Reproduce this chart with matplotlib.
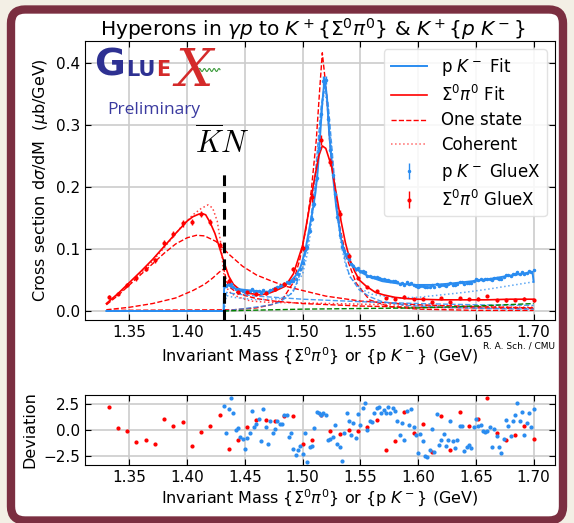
import numpy as np
import matplotlib.pyplot as plt
from matplotlib.patches import FancyBboxPatch

# ---- Sigma0 pi0 data (8 MeV bins) ----
sp_mass = [1.332, 1.340, 1.348, 1.356, 1.364, 1.372, 1.380, 1.388, 1.396, 1.404,
           1.412, 1.420, 1.428, 1.436, 1.444, 1.452, 1.460, 1.468, 1.476, 1.484,
           1.492, 1.500, 1.508, 1.516, 1.524, 1.532, 1.540, 1.548, 1.556, 1.564,
           1.572, 1.580, 1.588, 1.596, 1.604, 1.612, 1.620, 1.628, 1.636, 1.644,
           1.652, 1.660, 1.668, 1.676, 1.684, 1.692, 1.700]
sp_xsec = [0.022, 0.028, 0.042, 0.053, 0.068, 0.082, 0.110, 0.124, 0.141, 0.143,
           0.156, 0.144, 0.106, 0.049, 0.031, 0.030, 0.028, 0.029, 0.035, 0.044,
           0.068, 0.101, 0.183, 0.275, 0.240, 0.156, 0.089, 0.053, 0.039, 0.032,
           0.021, 0.020, 0.023, 0.019, 0.020, 0.014, 0.021, 0.014, 0.021, 0.019,
           0.020, 0.024, 0.017, 0.017, 0.018, 0.020, 0.017]
sp_err = [0.003, 0.003, 0.003, 0.004, 0.004, 0.004, 0.005, 0.005, 0.005, 0.005,
          0.005, 0.005, 0.005, 0.004, 0.003, 0.003, 0.003, 0.003, 0.003, 0.003,
          0.003, 0.005, 0.007, 0.008, 0.007, 0.007, 0.004, 0.002, 0.002, 0.002,
          0.002, 0.002, 0.002, 0.002, 0.002, 0.002, 0.002, 0.002, 0.002, 0.002,
          0.002, 0.002, 0.002, 0.002, 0.002, 0.002, 0.002]
sp_dev = [2.2, 0.15, -0.05, -1.15, -0.95, -1.3, 1.1, 0.4, 0.75, -1.5,
          -0.15, 0.4, 1.45, -1.85, -1.0, 0.25, 1.0, 0.95, 0.9, 1.35,
          1.35, -1.35, -1.0, 1.4, -0.05, -0.4, 0.0, -0.1, 0.25, 1.0,
          -1.95, -1.05, 1.7, -0.25, 0.6, -2.1, 1.35, -1.95, 1.7, 0.35,
          1.1, 3.05, -0.3, -1.0, -0.45, 0.35, -0.9]

# ---- p K- data (2 MeV bins, threshold to 1.70) ----
pk_mass = np.round(np.arange(1.432, 1.7005, 0.002), 3)
pk_xsec = [0.041, 0.041, 0.044, 0.044, 0.039, 0.036, 0.035, 0.034, 0.033, 0.031,
           0.032, 0.033, 0.035, 0.032, 0.033, 0.033, 0.029, 0.034, 0.031, 0.030,
           0.034, 0.035, 0.037, 0.039, 0.040, 0.042, 0.044, 0.046, 0.045, 0.048,
           0.048, 0.052, 0.059, 0.068, 0.078, 0.099, 0.103, 0.129, 0.149, 0.173,
           0.214, 0.262, 0.317, 0.371, 0.372, 0.309, 0.260, 0.219, 0.188, 0.151,
           0.122, 0.103, 0.096, 0.092, 0.084, 0.076, 0.073, 0.067, 0.069, 0.064,
           0.064, 0.063, 0.057, 0.056, 0.055, 0.055, 0.054, 0.053, 0.051, 0.051,
           0.050, 0.050, 0.048, 0.049, 0.048, 0.046, 0.043, 0.045, 0.042, 0.046,
           0.044, 0.045, 0.042, 0.041, 0.039, 0.041, 0.040, 0.038, 0.038, 0.039,
           0.042, 0.039, 0.044, 0.040, 0.042, 0.042, 0.041, 0.043, 0.045, 0.042,
           0.042, 0.044, 0.046, 0.047, 0.043, 0.045, 0.045, 0.045, 0.048, 0.051,
           0.050, 0.051, 0.050, 0.051, 0.051, 0.052, 0.050, 0.053, 0.053, 0.052,
           0.052, 0.054, 0.058, 0.058, 0.056, 0.059, 0.060, 0.063, 0.060, 0.063,
           0.060, 0.062, 0.065, 0.063, 0.066]
pk_err = ([0.0015] * 30
          + [0.002, 0.002, 0.0025, 0.003, 0.003, 0.003, 0.004, 0.004, 0.004, 0.005,
             0.005, 0.006, 0.006, 0.007, 0.007, 0.006, 0.006, 0.005, 0.005, 0.004,
             0.004, 0.003, 0.003, 0.003, 0.002, 0.002, 0.002, 0.002, 0.002, 0.002]
          + [0.0015] * 75)
pk_dev = [2.3, -0.3, 2.0, 3.1, 1.6, 0.0, 0.15, -0.65, -0.9, -1.8,
          -0.8, -0.25, 1.8, 0.3, 0.6, 1.1, -1.05, 2.0, 0.3, -1.3,
          0.9, -0.3, 0.05, 0.9, 0.6, 0.6, 1.45, 1.45, -0.65, -0.3,
          -1.8, -2.4, -1.95, -1.5, -2.3, -0.3, -3.1, -1.6, -1.5, 0.2,
          1.75, 1.6, 1.45, 1.6, 1.45, -0.95, -0.9, -0.65, 0.5, -1.3,
          -1.6, -3.0, -0.3, 1.6, 0.9, -0.5, 0.65, -0.8, 1.5, 0.5,
          2.1, 2.6, 0.0, 0.9, 0.8, 1.6, 2.15, 2.25, 1.6, 1.9,
          1.65, 2.25, 1.65, 2.1, 1.85, 0.9, -0.5, 0.65, -1.0, 1.85,
          0.5, 2.0, 0.3, -0.5, -2.25, -0.4, -1.1, -2.5, -2.6, -1.9,
          0.05, -2.1, 1.55, -1.45, -0.95, -0.4, -1.5, -0.95, 0.9, -1.1,
          -1.75, -1.0, 0.4, 0.4, -2.0, -1.6, -1.4, -1.7, 0.25, 1.1,
          0.4, 0.5, -0.05, -0.15, -0.1, 0.3, -1.6, 0.05, -0.6, -1.6,
          -2.25, -0.9, 1.0, 0.4, -0.6, 0.85, 1.45, 2.6, 0.9, 1.7,
          -0.5, 0.65, 1.6, 0.3, 2.0]

# ---- fits ----
sp_fit_m = [1.330, 1.340, 1.350, 1.360, 1.370, 1.380, 1.390, 1.400, 1.405, 1.410,
            1.413, 1.416, 1.420, 1.424, 1.428, 1.432, 1.436, 1.440, 1.445, 1.450,
            1.455, 1.463, 1.470, 1.477, 1.485, 1.492, 1.500, 1.506, 1.510, 1.514,
            1.517, 1.520, 1.525, 1.529, 1.533, 1.537, 1.541, 1.545, 1.549, 1.555,
            1.563, 1.570, 1.580, 1.590, 1.600, 1.620, 1.640, 1.660, 1.680, 1.700]
sp_fit = [0.012, 0.028, 0.046, 0.064, 0.083, 0.104, 0.125, 0.145, 0.152, 0.156,
          0.157, 0.155, 0.142, 0.125, 0.102, 0.078, 0.056, 0.043, 0.035, 0.030,
          0.028, 0.026, 0.028, 0.033, 0.040, 0.060, 0.106, 0.168, 0.211, 0.250,
          0.266, 0.262, 0.233, 0.190, 0.147, 0.110, 0.082, 0.064, 0.050, 0.040,
          0.030, 0.026, 0.022, 0.020, 0.019, 0.018, 0.018, 0.018, 0.019, 0.019]

pk_fit_m = [1.330, 1.4315, 1.432, 1.434, 1.436, 1.440, 1.445, 1.450, 1.455, 1.460,
            1.465, 1.470, 1.475, 1.480, 1.485, 1.490, 1.494, 1.498, 1.502, 1.505,
            1.508, 1.511, 1.513, 1.515, 1.517, 1.519, 1.521, 1.523, 1.526, 1.529,
            1.533, 1.537, 1.541, 1.545, 1.550, 1.558, 1.569, 1.584, 1.598, 1.612,
            1.627, 1.647, 1.660, 1.676, 1.690, 1.699, 1.700]
pk_fit = [0.0, 0.0, 0.036, 0.042, 0.041, 0.037, 0.035, 0.034, 0.033, 0.032,
          0.031, 0.031, 0.035, 0.039, 0.043, 0.049, 0.057, 0.070, 0.095, 0.125,
          0.155, 0.190, 0.225, 0.280, 0.335, 0.376, 0.345, 0.285, 0.222, 0.168,
          0.118, 0.090, 0.079, 0.070, 0.063, 0.055, 0.048, 0.044, 0.042, 0.042,
          0.044, 0.048, 0.051, 0.056, 0.060, 0.063, 0.047]

# ---- single-state and coherent components ----
sp_one1_m = [1.330, 1.340, 1.350, 1.360, 1.370, 1.380, 1.390, 1.400, 1.408, 1.415,
             1.425, 1.437, 1.448, 1.460, 1.472, 1.485, 1.500, 1.520, 1.550, 1.600,
             1.650, 1.700]
sp_one1 = [0.010, 0.025, 0.042, 0.059, 0.076, 0.093, 0.108, 0.118, 0.122, 0.121,
           0.112, 0.090, 0.072, 0.058, 0.049, 0.040, 0.033, 0.024, 0.016, 0.010,
           0.007, 0.005]
sp_one2_m = [1.330, 1.350, 1.370, 1.390, 1.405, 1.415, 1.422, 1.428, 1.4317, 1.434,
             1.437, 1.442, 1.450, 1.460, 1.475, 1.500, 1.550, 1.600, 1.700]
sp_one2 = [0.002, 0.006, 0.012, 0.021, 0.033, 0.043, 0.053, 0.063, 0.068, 0.048,
           0.038, 0.031, 0.025, 0.020, 0.016, 0.012, 0.008, 0.006, 0.004]
sp_one3_m = [1.330, 1.440, 1.460, 1.475, 1.483, 1.4916, 1.4974, 1.5032, 1.5075, 1.5118,
             1.5147, 1.517, 1.5204, 1.5233, 1.5276, 1.532, 1.5376, 1.5463, 1.5578, 1.575,
             1.600, 1.650, 1.700]
sp_one3 = [0.001, 0.002, 0.005, 0.011, 0.020, 0.045, 0.082, 0.136, 0.195, 0.276,
           0.356, 0.416, 0.356, 0.276, 0.195, 0.136, 0.088, 0.045, 0.018, 0.007,
           0.003, 0.001, 0.001]
sp_coh_m = [1.330, 1.350, 1.370, 1.385, 1.395, 1.405, 1.412, 1.418, 1.422, 1.426,
            1.429, 1.4317, 1.434, 1.438, 1.445, 1.455, 1.470, 1.500, 1.550, 1.600,
            1.650, 1.700]
sp_coh = [0.011, 0.043, 0.080, 0.113, 0.136, 0.155, 0.165, 0.171, 0.166, 0.145,
          0.110, 0.060, 0.038, 0.028, 0.022, 0.016, 0.014, 0.013, 0.011, 0.009,
          0.007, 0.006]

pk_one1_m = [1.330, 1.4317, 1.450, 1.470, 1.480, 1.4916, 1.500, 1.505, 1.509, 1.513,
             1.516, 1.519, 1.522, 1.525, 1.529, 1.533, 1.537, 1.5405, 1.549, 1.558,
             1.569, 1.590, 1.620, 1.660, 1.700]
pk_one1 = [0.0, 0.0, 0.004, 0.009, 0.014, 0.030, 0.070, 0.115, 0.180, 0.265,
           0.330, 0.365, 0.335, 0.270, 0.180, 0.120, 0.080, 0.057, 0.034, 0.023,
           0.015, 0.009, 0.006, 0.004, 0.003]
pk_one2_m = [1.330, 1.4317, 1.434, 1.440, 1.460, 1.500, 1.550, 1.600, 1.650, 1.700]
pk_one2 = [0.0, 0.0, 0.030, 0.028, 0.024, 0.019, 0.015, 0.012, 0.010, 0.009]
pk_coh_m = [1.330, 1.4317, 1.434, 1.440, 1.460, 1.480, 1.490, 1.500, 1.505, 1.509,
            1.513, 1.516, 1.519, 1.522, 1.525, 1.529, 1.533, 1.537, 1.541, 1.550,
            1.560, 1.580, 1.600, 1.620, 1.640, 1.660, 1.680, 1.700]
pk_coh = [0.0, 0.0, 0.025, 0.022, 0.018, 0.020, 0.028, 0.060, 0.100, 0.165,
          0.255, 0.320, 0.355, 0.325, 0.260, 0.170, 0.110, 0.075, 0.055, 0.036,
          0.027, 0.021, 0.022, 0.026, 0.030, 0.035, 0.041, 0.047]
bkg_m = [1.4317, 1.450, 1.500, 1.550, 1.600, 1.650, 1.700]
bkg = [0.0, 0.001, 0.003, 0.004, 0.005, 0.008, 0.012]

kn_threshold = 1.4317
mass_ticks = [1.35, 1.40, 1.45, 1.50, 1.55, 1.60, 1.65, 1.70]
mass_label = r"Invariant Mass {$\Sigma^0\pi^0$} or {p $K^-$} (GeV)"

RED = "red"
BLUE = "#2a8cf0"

fig = plt.figure(figsize=(5.74, 5.23), dpi=100)
fig.patch.set_facecolor("#f3efe5")

# rounded maroon frame, drawn in pixel coordinates
bg = fig.add_axes([0, 0, 1, 1], zorder=-5)
bg.set_xlim(0, 574)
bg.set_ylim(523, 0)
bg.axis("off")
bg.add_patch(FancyBboxPatch((11, 9.5), 552, 511, boxstyle="round,pad=0,rounding_size=14",
                            fc="white", ec="#7b2f41", lw=6))

ax = fig.add_axes([85 / 574, 1 - 320 / 523, 470 / 574, 279 / 523])
ax2 = fig.add_axes([85 / 574, 1 - 465 / 523, 470 / 574, 70 / 523])

# components
ax.plot(sp_one1_m, sp_one1, "--", color=RED, lw=1.0)
ax.plot(sp_one2_m, sp_one2, "--", color=RED, lw=1.0)
ax.plot(sp_one3_m, sp_one3, "--", color=RED, lw=1.0)
ax.plot(sp_coh_m, sp_coh, ":", color=RED, lw=1.1, alpha=0.75)
ax.plot(pk_one1_m, pk_one1, "--", color=BLUE, lw=1.0, alpha=0.85)
ax.plot(pk_one2_m, pk_one2, "--", color=BLUE, lw=1.0, alpha=0.85)
ax.plot(pk_coh_m, pk_coh, ":", color=BLUE, lw=1.1, alpha=0.75)
ax.plot(bkg_m, bkg, "--", color="green", lw=1.0)

# fits
h_pkfit, = ax.plot(pk_fit_m, pk_fit, "-", color=BLUE, lw=1.4, label="p $K^-$ Fit")
h_spfit, = ax.plot(sp_fit_m, sp_fit, "-", color=RED, lw=1.2, label=r"$\Sigma^0\pi^0$ Fit")
h_one, = ax.plot([], [], "--", color=RED, lw=1.0, label="One state")
h_coh, = ax.plot([], [], ":", color=RED, lw=1.1, alpha=0.6, label="Coherent")

# data
h_pk = ax.errorbar(pk_mass, pk_xsec, yerr=pk_err, fmt=".", color=BLUE, ms=3,
                   elinewidth=1.0, capsize=0, label="p $K^-$ GlueX")
h_sp = ax.errorbar(sp_mass, sp_xsec, yerr=sp_err, fmt=".", color=RED, ms=4,
                   elinewidth=1.0, capsize=0, label=r"$\Sigma^0\pi^0$ GlueX")

ax.vlines(kn_threshold, -0.015, 0.226, colors="black", linestyles=(0, (3.5, 2.0)),
          lw=2.2, zorder=6)

ax.set_xlim(1.3115, 1.7185)
ax.set_ylim(-0.0145, 0.435)
ax.set_yticks([0.0, 0.1, 0.2, 0.3, 0.4])
ax.set_xticks(mass_ticks)
ax.grid(True, color="#cccccc", lw=1.2)
ax.set_axisbelow(True)
ax.tick_params(direction="in", top=True, right=True, labelsize=11, length=4)
ax.set_ylabel(r"Cross section d$\sigma$/dM  ($\mu$b/GeV)", fontsize=11.5)
ax.set_xlabel(mass_label, fontsize=11.5)
ax.set_title(r"Hyperons in $\gamma p$ to $K^+\{\Sigma^0\pi^0\}$ & $K^+\{p\ K^-\}$",
             fontsize=14.5, pad=4, x=0.485)
ax.legend(handles=[h_pkfit, h_spfit, h_one, h_coh, h_pk, h_sp], loc="upper right",
          fontsize=12, framealpha=0.85, edgecolor="#dddddd", labelspacing=0.4,
          handlelength=2.2)

# residuals
ax2.plot(sp_mass, sp_dev, ".", color=RED, ms=4)
ax2.plot(pk_mass, pk_dev, ".", color=BLUE, ms=4)
ax2.set_xlim(1.3115, 1.7185)
ax2.set_ylim(-3.37, 3.37)
ax2.set_yticks([-2.5, 0.0, 2.5])
ax2.set_xticks(mass_ticks)
ax2.grid(True, color="#cccccc", lw=1.2)
ax2.set_axisbelow(True)
ax2.tick_params(direction="in", top=True, right=True, labelsize=11, length=4)
ax2.set_ylabel("Deviation", fontsize=11.5)
ax2.set_xlabel(mass_label, fontsize=11.5, labelpad=2)

# logo and labels, pixel coordinates
ov = fig.add_axes([0, 0, 1, 1], zorder=5)
ov.set_xlim(0, 574)
ov.set_ylim(523, 0)
ov.axis("off")
ov.text(94, 66, "G", fontsize=27, fontweight="heavy", color="#2e3192", va="center")
ov.text(126, 70, "LU", fontsize=15, fontweight="bold", color="#2e3192", va="center")
ov.text(156, 70, "E", fontsize=15, fontweight="bold", color="#d42a2a", va="center")
ov.text(194, 72, "X", fontsize=38, family="DejaVu Serif", style="italic",
        color="#d42a2a", ha="center", va="center")
wave_x = np.linspace(196, 220, 60)
ov.plot(wave_x, 70 + 1.5 * np.sin((wave_x - 196) * 1.3), color="#3a9a3a", lw=0.8)
ov.text(154, 110, "Preliminary", fontsize=12.5, color="#3b3ba0", ha="center",
        va="center", family="Open Sans")
ov.text(222, 143, r"$\overline{K}N$", fontsize=22, ha="center", va="center",
        math_fontfamily="cm")
ov.text(555, 346, "R. A. Sch. / CMU", fontsize=6.5, ha="right", va="center")

fig.savefig("out.png", dpi=100, facecolor=fig.get_facecolor())
